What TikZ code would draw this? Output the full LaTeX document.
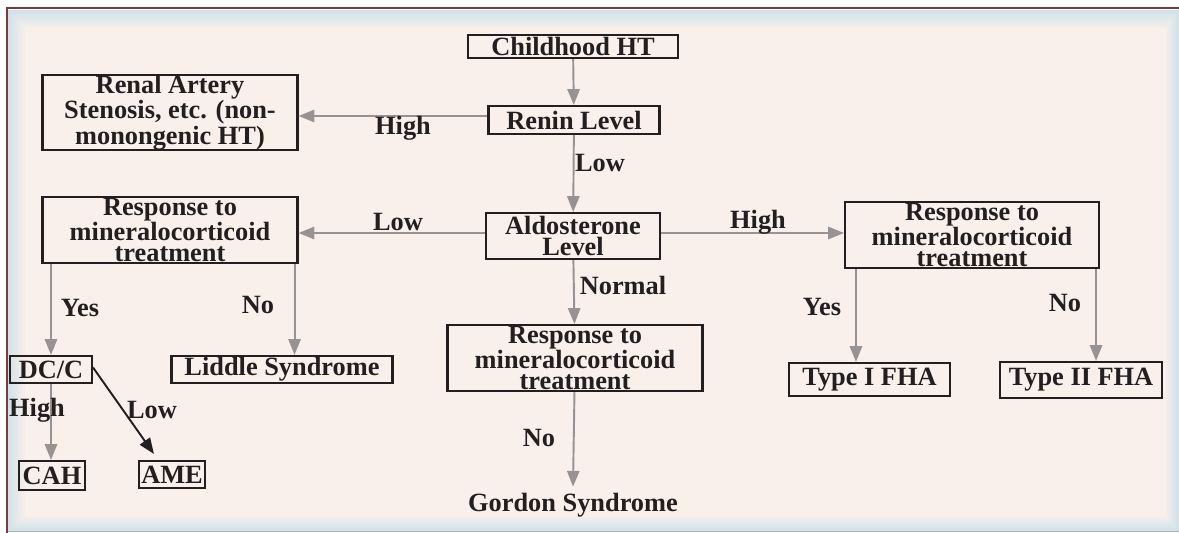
\documentclass[tikz,border=0pt]{standalone}
\usepackage{fontspec}
\setmainfont{Liberation Serif}
\usetikzlibrary{arrows.meta}
\definecolor{paper}{HTML}{F9F0EB}
\definecolor{rim}{HTML}{CFE2EA}
\definecolor{frameline}{HTML}{7A3B3B}
\definecolor{arrowgray}{HTML}{989393}
\definecolor{ink}{HTML}{231F20}

\begin{document}
\begin{tikzpicture}[x=0.02cm,y=-0.02cm]
\tikzstyle{every node}=[font=\fontsize{15}{12}\selectfont\bfseries,text=ink]
\tikzstyle{box}=[draw=ink,line width=1.2pt,inner sep=0pt,align=center]
\tikzstyle{lbl}=[inner sep=0pt]
\tikzstyle{arr}=[draw=arrowgray,line width=1.1pt,-{Triangle[width=7pt,length=9pt]}]
\useasboundingbox (0,0) rectangle (1179,533);
% panel
\foreach \i in {0,...,9} {
\pgfmathtruncatemacro\m{\i*11}
\fill[paper!\m!rim] (7+2*\i,10+2*\i) rectangle (1179-1.5*\i,531-1.6*\i);
}
\draw[gray!60,line width=0.8pt] (7,531.5) -- (1179,531.5);
\draw[frameline,line width=1.3pt] (7,533) -- (7,8) -- (1179,8);
% boxes
\node[box,minimum width=4.2cm,minimum height=0.46cm] (child) at (573,46.5) {Childhood HT};
\node[box,minimum width=3.42cm,minimum height=0.56cm] (renin) at (574,120) {Renin Level};
\node[box,minimum width=5.1cm,minimum height=1.38cm] (renal) at (170,112.5) {Renal Artery\\Stenosis, etc. (non-\\monongenic HT)};
\node[box,minimum width=3.48cm,minimum height=0.92cm] (aldo) at (573,236) {Aldosterone\\Level};
\node[box,minimum width=5.1cm,minimum height=1.32cm] (lresp) at (170,230) {Response to\\mineralocorticoid\\treatment};
\node[box,minimum width=5.08cm,minimum height=1.32cm] (rresp) at (972,235) {Response to\\mineralocorticoid\\treatment};
\node[box,minimum width=5.1cm,minimum height=1.32cm] (mresp) at (575,358) {Response to\\mineralocorticoid\\treatment};
\node[box,minimum width=1.64cm,minimum height=0.54cm] (dcc) at (51,369.5) {DC/C};
\node[box,minimum width=4.42cm,minimum height=0.54cm] (liddle) at (282,369.5) {Liddle Syndrome};
\node[box,minimum width=1.32cm,minimum height=0.58cm] (cah) at (52,475.5) {CAH};
\node[box,minimum width=1.32cm,minimum height=0.54cm] (ame) at (172,474.5) {AME};
\node[box,minimum width=3.22cm,minimum height=0.66cm] (fha1) at (869.5,379.5) {Type I FHA};
\node[box,minimum width=3.24cm,minimum height=0.72cm] (fha2) at (1081,380) {Type II FHA};
\node[lbl] (gordon) at (573,505) {Gordon Syndrome};
% connectors
\draw[arr] (child) -- (renin);
\draw[arr] ([yshift=0.08cm]renin.west) -- ([yshift=0.08cm]renin.west -| renal.east);
\draw[arr] (renin) -- (aldo);
\draw[arr] ([yshift=0.06cm]aldo.west) -- ([yshift=0.06cm]aldo.west -| lresp.east);
\draw[arr] ([yshift=0.06cm]aldo.east) -- ([yshift=0.06cm]aldo.east -| rresp.west);
\draw[arr] (aldo) -- (mresp);
\draw[arr] (lresp.south -| dcc) -- (dcc.north);
\draw[arr] ([xshift=-0.08cm]lresp.south east) -- ([xshift=-0.08cm]lresp.south east |- liddle.north);
\draw[arr] ([xshift=0.24cm]rresp.south west) -- ([xshift=0.24cm]rresp.south west |- fha1.north);
\draw[arr] ([xshift=-0.08cm]rresp.south east) -- ([xshift=-0.08cm]rresp.south east |- fha2.north);
\draw[arr] (dcc.south) -- (cah.north -| dcc);
\draw[arr,draw=ink] ([yshift=0.04cm]dcc.east) -- ([xshift=0.32cm,yshift=0.12cm]ame.north west);
\draw[arr] (mresp) -- ([yshift=0.12cm]gordon.north);
% labels
\node[lbl] (hi1) at (403,128) {High};
\node[lbl] (lo1) at (600,163) {Low};
\node[lbl] (lo2) at (398,222) {Low};
\node[lbl] (hi2) at (758,222) {High};
\node[lbl] (norm) at (623,285) {Normal};
\node[lbl] (yes1) at (80,308) {Yes};
\node[lbl] (no1) at (258,305) {No};
\node[lbl] (hi3) at (37,410) {High};
\node[lbl] (lo3) at (152,410) {Low};
\node[lbl] (no2) at (539,438) {No};
\node[lbl] (yes2) at (822,307) {Yes};
\node[lbl] (no3) at (1065,303) {No};
\end{tikzpicture}
\end{document}
